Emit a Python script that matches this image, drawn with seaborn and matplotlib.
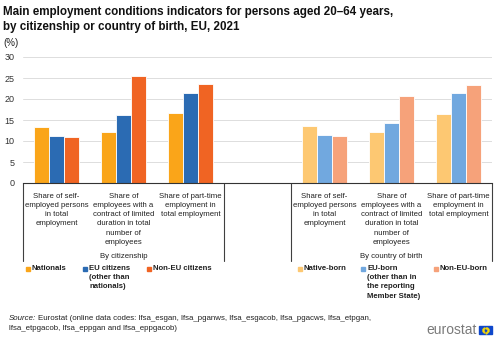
import matplotlib
matplotlib.use("Agg")
import matplotlib.pyplot as plt
import matplotlib.transforms as mtransforms
from matplotlib.patches import Rectangle
import numpy as np
import pandas as pd
import seaborn as sns

# Indicator labels (shared by both panels)
indicators = [
    "Share of self-\nemployed persons\nin total\nemployment",
    "Share of\nemployees with a\ncontract of limited\nduration in total\nnumber of\nemployees",
    "Share of part-time\nemployment in\ntotal employment",
]

# By citizenship (%)
citizenship_series = ["Nationals", "EU citizens\n(other than\nnationals)", "Non-EU citizens"]
nationals = [13.4, 12.1, 16.7]
eu_citizens = [11.2, 16.1, 21.5]
non_eu_citizens = [11.0, 25.5, 23.6]

# By country of birth (%)
birth_series = ["Native-born", "EU-born\n(other than in\nthe reporting\nMember State)", "Non-EU-born"]
native_born = [13.5, 12.1, 16.4]
eu_born = [11.4, 14.4, 21.4]
non_eu_born = [11.2, 20.7, 23.3]

citizenship_colors = ["#FAA519", "#2B6BB3", "#F06423"]
birth_colors = ["#FDC872", "#71A8DF", "#F6A27A"]

y_ticks = [0, 5, 10, 15, 20, 25, 30]

# Seven category slots: three per panel with an empty slot between them
slots = ["c1", "c2", "c3", "gap", "b1", "b2", "b3"]

def long_frame(slot_keys, series_names, columns):
    rows = []
    for name, vals in zip(series_names, columns):
        for key, v in zip(slot_keys, vals):
            rows.append({"slot": key, "series": name, "value": v})
    return pd.DataFrame(rows)

df_cit = long_frame(slots[:3], citizenship_series, [nationals, eu_citizens, non_eu_citizens])
df_birth = long_frame(slots[4:], birth_series, [native_born, eu_born, non_eu_born])

sns.set_theme(style="white")
plt.rcParams["font.family"] = ["Liberation Sans", "DejaVu Sans"]

W, H = 500, 343
fig = plt.figure(figsize=(W / 100, H / 100), dpi=100)

def fx(px):
    return px / W

def fy(py):
    return 1 - py / H

ax_left, ax_right, ax_top, ax_bot = 23, 492, 57, 183
ax = fig.add_axes([fx(ax_left), fy(ax_bot), fx(ax_right - ax_left), (ax_bot - ax_top) / H])

bar_kw = dict(x="slot", y="value", hue="series", order=slots, width=0.66, saturation=1,
              edgecolor="white", linewidth=0.6, legend=False, ax=ax, errorbar=None)
sns.barplot(data=df_cit, hue_order=citizenship_series, palette=citizenship_colors, **bar_kw)
sns.barplot(data=df_birth, hue_order=birth_series, palette=birth_colors, **bar_kw)

label_fs = 5.6
label_ls = 1.45

ax.set_xlim(-0.5, 6.5)
ax.set_ylim(0, 30)
ax.set_yticks(y_ticks)
ax.set_yticklabels([str(t) for t in y_ticks], fontsize=6.5, color="#333333")
ax.set_xticks(range(7))
ax.set_xticklabels(indicators + [""] + indicators, fontsize=label_fs, color="#222222",
                   linespacing=label_ls)
ax.tick_params(axis="x", length=0, pad=7)
ax.tick_params(axis="y", length=0, pad=6)
ax.set_xlabel("")
ax.set_ylabel("")
ax.yaxis.grid(True, color="#dddddd", linewidth=0.7)
ax.set_axisbelow(True)
for s in ["top", "right", "left"]:
    ax.spines[s].set_visible(False)
ax.spines["bottom"].set_color("#333333")
ax.spines["bottom"].set_linewidth(0.8)

# Panel brackets below the axis
trans = mtransforms.blended_transform_factory(ax.transData, ax.transAxes)
drop = -(261 - ax_bot) / (ax_bot - ax_top)
for xv in [-0.5, 2.5, 3.5, 6.5]:
    ax.plot([xv, xv], [0, drop], transform=trans, color="#404040", lw=0.8, clip_on=False)

group_y = -(257 - ax_bot) / (ax_bot - ax_top)
ax.text(1.0, group_y, "By citizenship", transform=trans, ha="center", va="center",
        fontsize=label_fs, color="#222222")
ax.text(5.0, group_y, "By country of birth", transform=trans, ha="center", va="center",
        fontsize=label_fs, color="#222222")

# Legend entries
def legend_item(x_px, label, color):
    fig.add_artist(Rectangle((fx(x_px), fy(271)), fx(4), 4 / H, color=color,
                             transform=fig.transFigure))
    fig.text(fx(x_px + 6), fy(265), label, fontsize=label_fs, fontweight="bold",
             ha="left", va="top", color="#222222", linespacing=label_ls)

for xp, lab, col in zip([26, 83, 147], citizenship_series, citizenship_colors):
    legend_item(xp, lab, col)
for xp, lab, col in zip([298, 361, 434], birth_series, birth_colors):
    legend_item(xp, lab, col)

# Title and unit
fig.text(fx(3), fy(6.5), "Main employment conditions indicators for persons aged 20\u201364 years,\n"
         "by citizenship or country of birth, EU, 2021",
         fontsize=8.4, fontweight="bold", ha="left", va="top", linespacing=1.3, color="#111111")
fig.text(fx(3), fy(43), "(%)", fontsize=7, ha="left", va="center", color="#222222")

# Source note
renderer = fig.canvas.get_renderer()
src_label = fig.text(fx(9), fy(318), "Source:", fontsize=5.7, style="italic",
                     ha="left", va="center", color="#222222")
bb = src_label.get_window_extent(renderer=renderer)
fig.text(bb.x1 / W + fx(2), fy(318),
         "Eurostat (online data codes: lfsa_esgan, lfsa_pganws, lfsa_esgacob, lfsa_pgacws, lfsa_etpgan,",
         fontsize=5.7, ha="left", va="center", color="#222222")
fig.text(fx(9), fy(328.5), "lfsa_etpgacob, lfsa_eppgan and lfsa_eppgacob)",
         fontsize=5.7, ha="left", va="center", color="#222222")

# Eurostat logo
fig.text(fx(477), fy(330), "eurostat", fontsize=10, ha="right", va="center", color="#7a7a7a")
fig.add_artist(Rectangle((fx(479), fy(334)), fx(13), 8 / H, color="#0E47CB",
                         transform=fig.transFigure))
cx, cy, r = 485.5, 330, 2.5
ang = np.linspace(0, 2 * np.pi, 12, endpoint=False)
fig.add_artist(plt.Line2D([fx(cx + r * np.cos(a)) for a in ang],
                          [fy(cy + r * np.sin(a)) for a in ang],
                          transform=fig.transFigure, linestyle="none", marker="o",
                          markersize=0.6, color="#FFDD00"))

fig.savefig("out.png", dpi=100)
